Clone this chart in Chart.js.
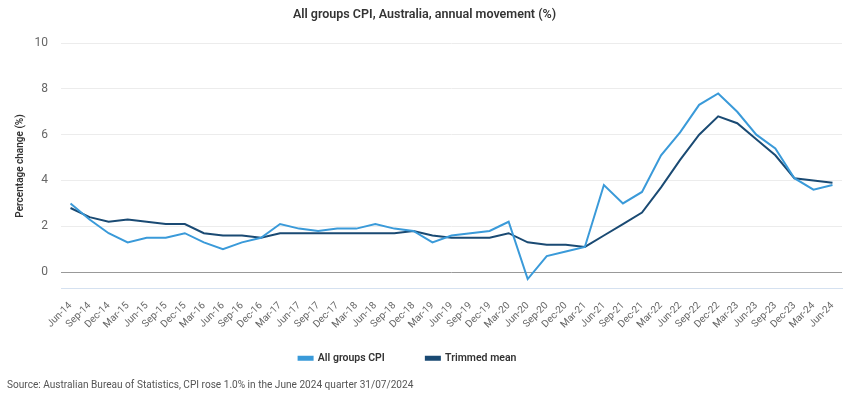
<!DOCTYPE html>
<html>
<head>
<meta charset="utf-8">
<script src="https://cdn.jsdelivr.net/npm/chart.js@4/dist/chart.umd.min.js"></script>
<style>
  html, body { margin: 0; padding: 0; background: #fff; }
</style>
</head>
<body>
<canvas id="cpi-chart" width="850" height="399"></canvas>
<script>
const quarters = [
  'Jun-14', 'Sep-14', 'Dec-14',
  'Mar-15', 'Jun-15', 'Sep-15', 'Dec-15',
  'Mar-16', 'Jun-16', 'Sep-16', 'Dec-16',
  'Mar-17', 'Jun-17', 'Sep-17', 'Dec-17',
  'Mar-18', 'Jun-18', 'Sep-18', 'Dec-18',
  'Mar-19', 'Jun-19', 'Sep-19', 'Dec-19',
  'Mar-20', 'Jun-20', 'Sep-20', 'Dec-20',
  'Mar-21', 'Jun-21', 'Sep-21', 'Dec-21',
  'Mar-22', 'Jun-22', 'Sep-22', 'Dec-22',
  'Mar-23', 'Jun-23', 'Sep-23', 'Dec-23',
  'Mar-24', 'Jun-24'
];
const allGroupsCpi = [
  3.0, 2.3, 1.7,
  1.3, 1.5, 1.5, 1.7,
  1.3, 1.0, 1.3, 1.5,
  2.1, 1.9, 1.8, 1.9,
  1.9, 2.1, 1.9, 1.8,
  1.3, 1.6, 1.7, 1.8,
  2.2, -0.3, 0.7, 0.9,
  1.1, 3.8, 3.0, 3.5,
  5.1, 6.1, 7.3, 7.8,
  7.0, 6.0, 5.4, 4.1,
  3.6, 3.8
];
const trimmedMean = [
  2.8, 2.4, 2.2,
  2.3, 2.2, 2.1, 2.1,
  1.7, 1.6, 1.6, 1.5,
  1.7, 1.7, 1.7, 1.7,
  1.7, 1.7, 1.7, 1.8,
  1.6, 1.5, 1.5, 1.5,
  1.7, 1.3, 1.2, 1.2,
  1.1, 1.6, 2.1, 2.6,
  3.7, 4.9, 6.0, 6.8,
  6.5, 5.8, 5.1, 4.1,
  4.0, 3.9
];
const yTicks = [0, 2, 4, 6, 8, 10];

const cpiColor = '#3a9ad9';
const trimmedColor = '#1a4a73';

Chart.defaults.font.family = "Roboto, sans-serif";

// the legend keeps wide gaps between items, so pull it up and left a bit
const legendShift = {
  id: 'legendShift',
  afterLayout(chart) {
    const legend = chart.legend;
    legend.top -= 22;
    legend.left -= 17;
    legend.right -= 17;
  }
};

const ctx = document.getElementById('cpi-chart').getContext('2d');

const chart = new Chart(ctx, {
  type: 'line',
  data: {
    labels: quarters,
    datasets: [{
      label: 'All groups CPI',
      data: allGroupsCpi,
      borderColor: cpiColor,
      backgroundColor: cpiColor,
      borderWidth: 2,
      pointRadius: 0,
      tension: 0
    }, {
      label: 'Trimmed mean',
      data: trimmedMean,
      borderColor: trimmedColor,
      backgroundColor: trimmedColor,
      borderWidth: 2,
      pointRadius: 0,
      tension: 0
    }]
  },
  options: {
    responsive: false,
    animation: false,
    layout: {
      padding: { left: 7, right: 8, top: 0, bottom: 0 }
    },
    plugins: {
      title: {
        display: true,
        text: 'All groups CPI, Australia, annual movement (%)',
        color: '#333',
        font: { size: 12.5, weight: '600' },
        padding: { top: 7.5, bottom: 20.5 }
      },
      subtitle: {
        display: true,
        position: 'bottom',
        align: 'start',
        text: 'Source: Australian Bureau of Statistics, CPI rose 1.0% in the June 2024 quarter 31/07/2024',
        color: '#555',
        font: { size: 10.1 },
        padding: { top: 7, bottom: 7 }
      },
      legend: {
        position: 'bottom',
        maxHeight: 39,
        labels: {
          boxWidth: 14,
          boxHeight: 3,
          padding: 41,
          color: '#333',
          font: { size: 10.5, weight: '600' }
        }
      },
      tooltip: { enabled: false }
    },
    scales: {
      x: {
        offset: true,
        grid: { display: false },
        border: { color: '#d5e1f0' },
        ticks: {
          autoSkip: false,
          minRotation: 45,
          maxRotation: 45,
          color: '#666',
          font: { size: 10 }
        },
        afterFit: (scale) => { scale.height = 45; }
      },
      y: {
        min: -0.73,
        max: 10,
        afterBuildTicks: (scale) => {
          scale.ticks = yTicks.map(v => ({ value: v }));
        },
        grid: {
          drawTicks: false,
          color: (c) => (c.tick && c.tick.value === 0) ? '#999' : '#ececec'
        },
        border: { display: false },
        ticks: {
          padding: 13,
          color: '#666',
          font: { size: 12 }
        },
        title: {
          display: true,
          text: 'Percentage change (%)',
          color: '#333',
          font: { size: 10, weight: '600' },
          padding: { top: 7, bottom: 0 }
        },
        afterFit: (scale) => { scale.width = 54; }
      }
    }
  },
  plugins: [legendShift]
});
</script>
</body>
</html>
